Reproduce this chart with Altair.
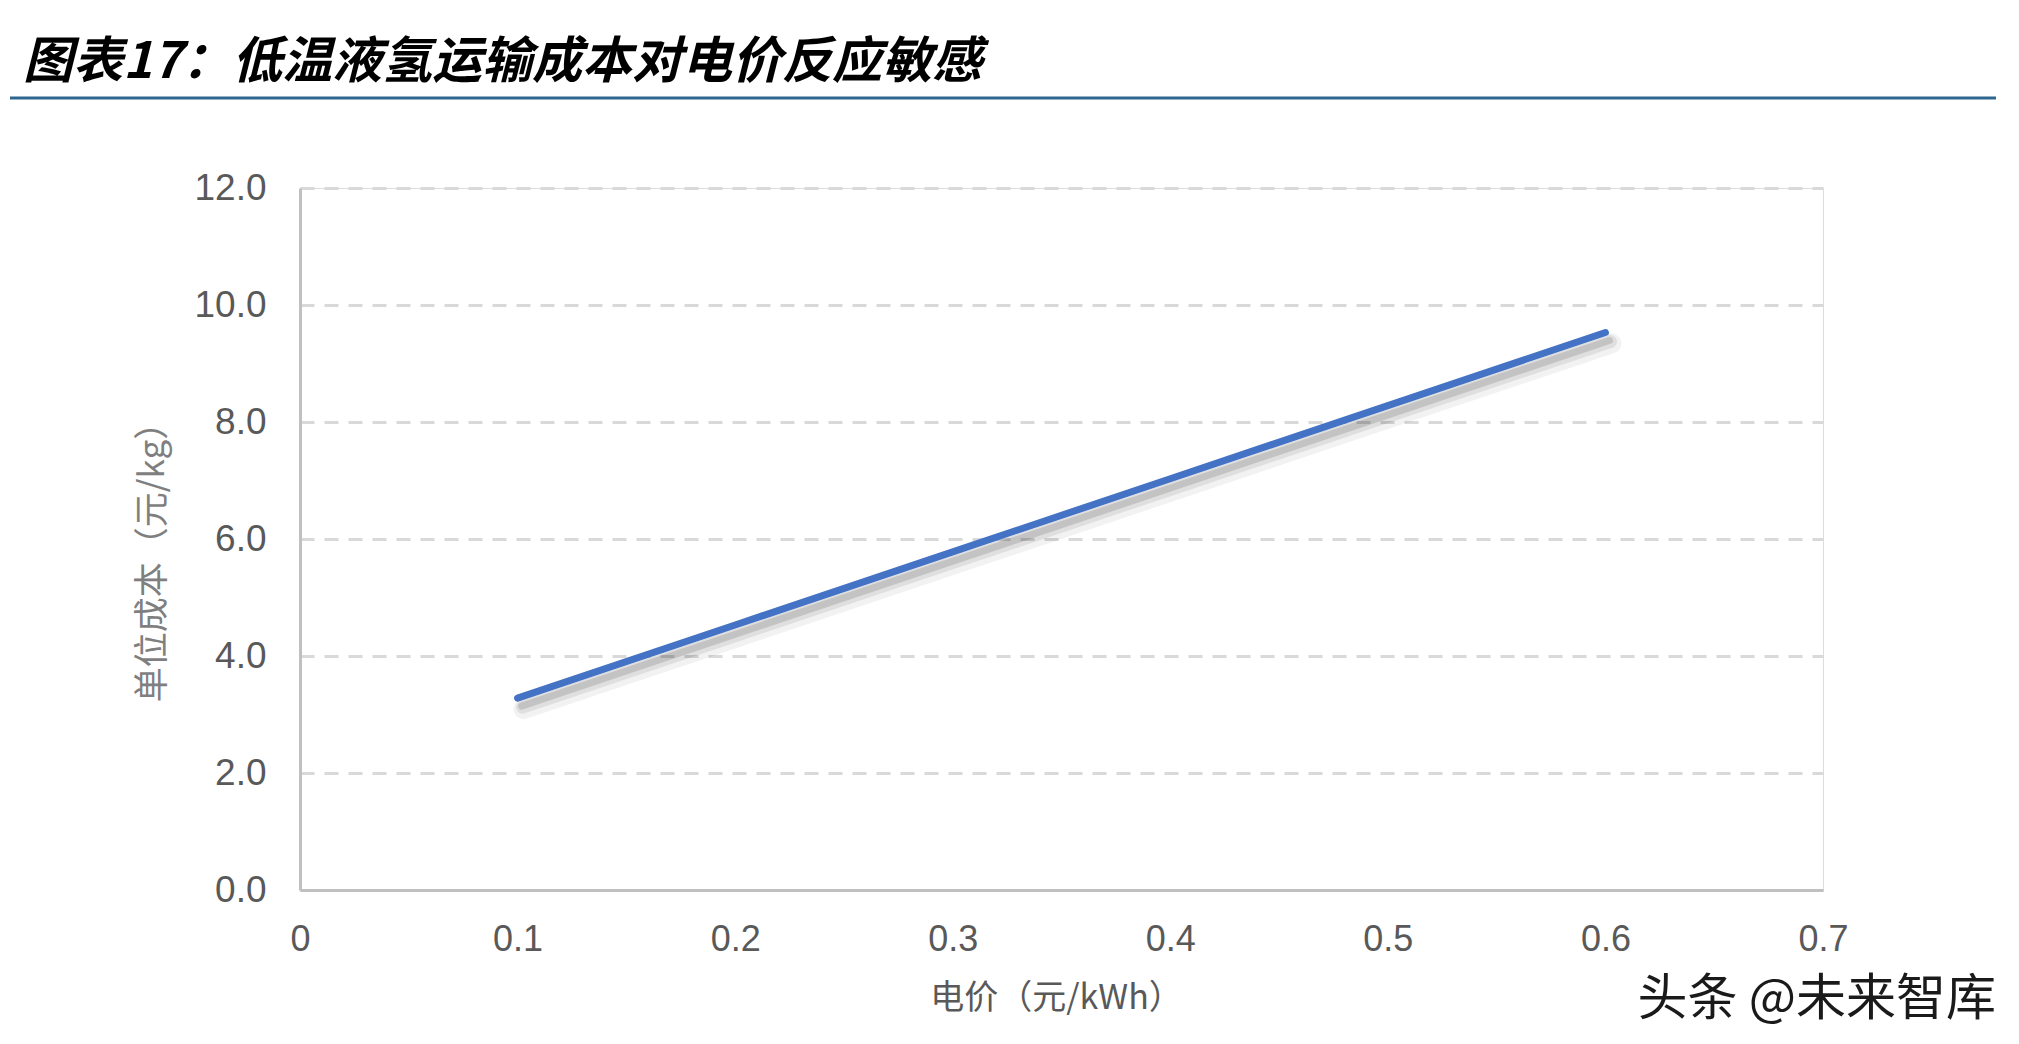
import altair as alt
import pandas as pd

# Data
price = [0.1, 0.2, 0.3, 0.4, 0.5, 0.6]               # 电价（元/kWh）
cost = [3.28, 4.53, 5.78, 7.03, 8.28, 9.53]          # 单位成本（元/kg）
x_ticks = [0, 0.1, 0.2, 0.3, 0.4, 0.5, 0.6, 0.7]
y_ticks = [0, 2, 4, 6, 8, 10, 12]

title_text = "图表17：低温液氢运输成本对电价反应敏感"
x_title = "电价（元/kWh）"
y_title = "单位成本（元/kg）"
watermark = "头条 @未来智库"

df = pd.DataFrame({"price": price, "cost": cost})
one = pd.DataFrame({"k": [0]})

W, H = 1523, 702

x_enc = alt.X(
    "price:Q",
    scale=alt.Scale(domain=[0, 0.7], nice=False, zero=True),
    axis=alt.Axis(
        values=x_ticks, format="~g", title=x_title,
        grid=False, ticks=False, labelFlush=False,
        domainColor="#C0C0C0", domainWidth=3,
        labelFont="Liberation Sans", labelFontSize=36, labelColor="#595959",
        labelPadding=32,
        titleFont="Noto Sans CJK SC", titleFontSize=34, titleColor="#595959",
        titleFontWeight="normal",
        titleX=756, titleY=108, titleBaseline="middle", titleAlign="center",
    ),
)
y_enc = alt.Y(
    "cost:Q",
    scale=alt.Scale(domain=[0, 12], nice=False),
    axis=alt.Axis(
        values=y_ticks, format=".1f", title=y_title,
        grid=True, gridColor="#D9D9D9", gridWidth=3, gridDash=[14, 10],
        ticks=False, labelFlush=False,
        domainColor="#C0C0C0", domainWidth=3,
        labelFont="Liberation Sans", labelFontSize=37, labelColor="#595959",
        labelPadding=34,
        titleFont="Noto Sans CJK SC", titleFontSize=35, titleColor="#7F7F7F",
        titleFontWeight="normal",
        titleX=-148, titleY=365, titleAngle=270, titleBaseline="middle",
        titleAlign="center",
    ),
)

shadow1 = alt.Chart(df).mark_line(
    color="#000000", opacity=0.05, strokeWidth=20, strokeCap="round",
    xOffset=6, yOffset=11,
).encode(x=x_enc, y=y_enc)
shadow2 = alt.Chart(df).mark_line(
    color="#000000", opacity=0.08, strokeWidth=13, strokeCap="round",
    xOffset=5, yOffset=9,
).encode(x=x_enc, y=y_enc)
shadow3 = alt.Chart(df).mark_line(
    color="#000000", opacity=0.12, strokeWidth=7, strokeCap="round",
    xOffset=4, yOffset=8,
).encode(x=x_enc, y=y_enc)
line = alt.Chart(df).mark_line(
    color="#4472C4", strokeWidth=7, strokeCap="round",
).encode(x=x_enc, y=y_enc)

title = alt.Chart(one).mark_text(
    text=title_text, align="left", baseline="middle",
    font="Noto Sans CJK SC", fontSize=50, fontWeight="bold", fontStyle="italic",
    color="#000000",
).encode(x=alt.value(-277), y=alt.value(-125))

rule = alt.Chart(one).mark_rule(color="#2F6690", strokeWidth=3).encode(
    x=alt.value(-290), x2=alt.value(1696), y=alt.value(-90)
)

wm = alt.Chart(one).mark_text(
    text=watermark, align="right", baseline="middle",
    font="Noto Sans CJK SC", fontSize=50, color="#1A1A1A",
).encode(x=alt.value(1696), y=alt.value(812))

chart = alt.layer(shadow1, shadow2, shadow3, line, title, rule, wm).properties(
    width=W, height=H,
    autosize=alt.AutoSizeParams(type="none"),
    padding={"left": 292, "top": 180, "right": 180, "bottom": 140},
).configure_view(stroke=None).configure(background="#FFFFFF")

chart.save("out.html", embed_options={"renderer": "svg", "actions": False})
